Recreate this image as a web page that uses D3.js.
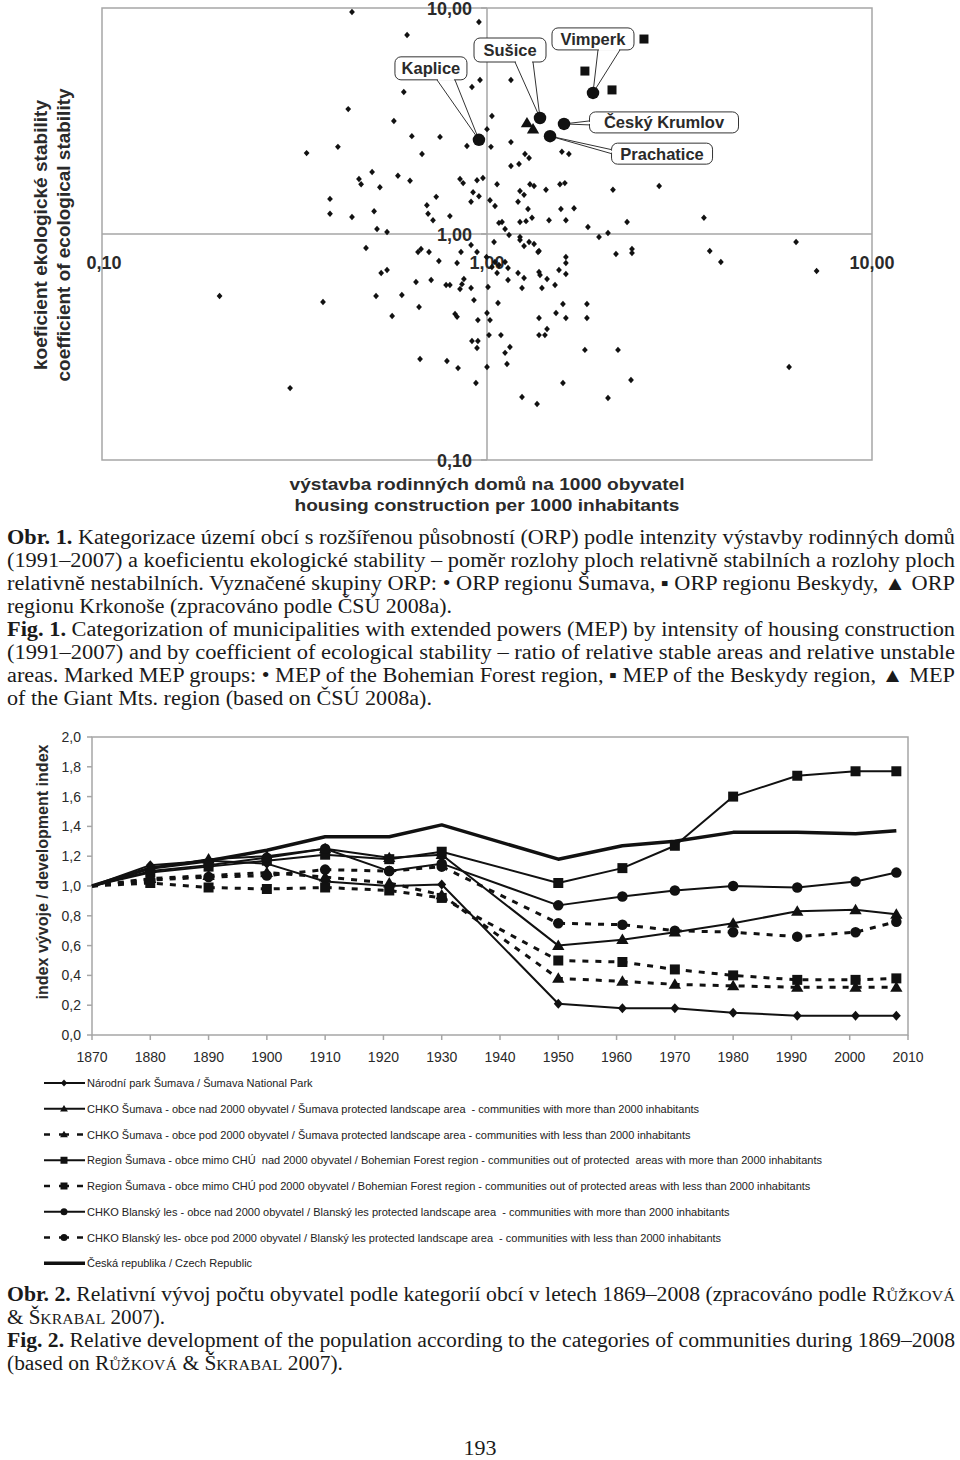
<!DOCTYPE html>
<html><head><meta charset="utf-8">
<script src="https://cdn.jsdelivr.net/npm/d3@7"></script>
<style>body{margin:0;background:#fff} svg{display:block} text{white-space:pre}</style>
</head><body>
<svg id="c" width="960" height="1460"></svg>
<script>
// ---------- Fig. 1 data (log-log scatter) ----------
const housingX = [0.446,0.953,0.620,0.959,0.914,0.608,0.436,1.030,0.573,1.00,
0.638,0.755,0.887,1.024,0.340,0.410,0.678,0.503,0.465,0.471,
0.587,0.631,0.527,0.851,0.867,0.942,0.976,1.062,0.920,0.953,
0.909,1.018,1.049,0.738,0.391,0.391,0.446,0.509,0.698,0.703,
0.724,0.801,1.074,0.518,1.154,1.154,1.255,1.286,1.565,1.632,
1.154,1.211,2.80,2.124,1.293,1.325,1.423,1.547,1.593,1.218,
1.248,1.204,1.278,1.556,1.683,1.449,1.603,1.829,2.311,3.66,
1.094,1.218,1.263,1.309,1.954,2.062,1.114,1.141,1.043,1.218,
1.218,1.248,1.286,1.325,1.365,2.163,2.380,2.380,3.79,4.05,
6.35,7.18,0.997,1.049,1.114,1.030,1.062,1.134,1.134,1.006,
1.204,1.248,1.233,1.365,1.373,1.389,1.432,1.502,1.538,1.603,
1.603,1.603,1.068,1.00,1.018,1.012,1.087,1.365,1.575,1.818,
1.511,1.603,1.818,1.432,1.365,1.414,1.147,1.114,1.127,1.00,
1.796,2.189,6.09,1.575,2.366,1.233,1.349,2.062,0.550,0.485,
0.662,0.674,0.707,0.750,0.836,0.856,0.909,0.942,0.531,0.550,
0.654,0.716,0.783,0.801,0.871,0.861,0.851,0.909,0.515,0.601,
0.666,0.567,0.826,0.836,0.925,0.947,0.914,0.947,0.942,0.202,
0.375,0.308,0.670,0.787,0.841,0.936,1.357,1.074];
const stabilityY = [9.60,8.67,7.60,4.80,4.47,4.25,3.57,3.33,3.16,2.91,
2.71,2.69,2.45,2.43,2.28,2.43,2.26,1.88,1.75,1.66,
1.81,1.72,1.61,1.75,1.68,1.73,1.77,1.66,1.53,1.47,
1.39,1.41,1.33,1.46,1.43,1.23,1.19,1.26,1.34,1.23,
1.15,1.20,1.12,1.052,4.80,2.55,2.26,2.17,2.31,2.26,
2.00,2.04,1.63,1.57,1.66,1.63,1.57,1.66,1.68,1.55,
1.49,1.39,1.29,1.29,1.30,1.15,1.15,1.074,1.13,1.18,
1.13,1.13,1.14,1.18,0.970,1.01,1.052,0.99,0.922,0.970,
0.941,0.885,0.922,0.903,0.841,0.816,0.858,0.824,0.841,0.752,
0.922,0.686,0.791,0.752,0.752,0.714,0.672,0.707,0.626,0.583,
0.672,0.639,0.577,0.679,0.659,0.577,0.632,0.595,0.693,0.791,
0.744,0.665,0.495,0.447,0.416,0.357,0.357,0.425,0.490,0.490,
0.447,0.425,0.425,0.380,0.357,0.357,0.316,0.298,0.266,0.258,
0.307,0.307,0.258,0.219,0.226,0.190,0.177,0.188,1.02,0.867,
0.833,0.858,0.833,0.760,0.744,0.833,0.894,0.833,0.672,0.693,
0.613,0.626,0.595,0.595,0.632,0.600,0.571,0.577,0.532,0.537,
0.475,0.434,0.443,0.430,0.510,0.416,0.336,0.336,0.313,0.532,
0.500,0.208,0.280,0.274,0.255,0.219,0.833,0.729];
const sumavaNames = ["Kaplice","Sušice","Vimperk","Český Krumlov","Prachatice"];
const sumavaX = [0.953,1.373,1.885,1.585,1.458];
const sumavaY = [2.61,3.26,4.21,3.07,2.71];
const beskydyX = [1.796,2.112,2.557];
const beskydyY = [5.26,4.34,7.29];
const krkonoseX = [1.270,1.317];
const krkonoseY = [3.10,2.91];
const logTicks = [0.1,1,10];
const logTickLabels = ["0,10","1,00","10,00"];
const fig1XTitle = ["výstavba rodinných domů na 1000 obyvatel","housing construction per 1000 inhabitants"];
const fig1YTitle = ["koeficient ekologické stability","coefficient of ecological stability"];

// ---------- Fig. 2 data (population index) ----------
const years = [1870,1880,1890,1900,1910,1921,1930,1950,1961,1970,1980,1991,2001,2008];
const npSumava      = [1.00,1.14,1.17,1.15,1.03,1.00,1.01,0.21,0.18,0.18,0.15,0.13,0.13,0.13];
const chkoSumavaNad = [1.00,1.12,1.18,1.20,1.25,1.19,1.21,0.60,0.64,0.69,0.75,0.83,0.84,0.81];
const chkoSumavaPod = [1.00,1.05,1.07,1.09,1.06,1.02,0.94,0.38,0.36,0.34,0.33,0.32,0.32,0.32];
const regionNad     = [1.00,1.09,1.13,1.17,1.21,1.18,1.23,1.02,1.12,1.27,1.60,1.74,1.77,1.77];
const regionPod     = [1.00,1.02,0.99,0.98,0.99,0.97,0.92,0.50,0.49,0.44,0.40,0.37,0.37,0.38];
const blanskyNad    = [1.00,1.10,1.14,1.19,1.25,1.10,1.15,0.87,0.93,0.97,1.00,0.99,1.03,1.09];
const blanskyPod    = [1.00,1.04,1.06,1.07,1.11,1.10,1.13,0.75,0.74,0.70,0.69,0.66,0.69,0.76];
const czechRep      = [1.00,1.12,1.17,1.24,1.33,1.33,1.41,1.18,1.27,1.30,1.36,1.36,1.35,1.37];
const seriesNames = [
 "Národní park Šumava / Šumava National Park",
 "CHKO Šumava - obce nad 2000 obyvatel / Šumava protected landscape area  - communities with more than 2000 inhabitants",
 "CHKO Šumava - obce pod 2000 obyvatel / Šumava protected landscape area - communities with less than 2000 inhabitants",
 "Region Šumava - obce mimo CHÚ  nad 2000 obyvatel / Bohemian Forest region - communities out of protected  areas with more than 2000 inhabitants",
 "Region Šumava - obce mimo CHÚ pod 2000 obyvatel / Bohemian Forest region - communities out of protected areas with less than 2000 inhabitants",
 "CHKO Blanský les - obce nad 2000 obyvatel / Blanský les protected landscape area  - communities with more than 2000 inhabitants",
 "CHKO Blanský les- obce pod 2000 obyvatel / Blanský les protected landscape area  - communities with less than 2000 inhabitants",
 "Česká republika / Czech Republic"];
const yearTicks = [1870,1880,1890,1900,1910,1920,1930,1940,1950,1960,1970,1980,1990,2000,2010];
const indexTicks = [0,0.2,0.4,0.6,0.8,1.0,1.2,1.4,1.6,1.8,2.0];
const indexTickLabels = ["0,0","0,2","0,4","0,6","0,8","1,0","1,2","1,4","1,6","1,8","2,0"];
const fig2YTitle = "index vývoje / development index";

// ---------- captions ----------
const caption1 = [
 [["Obr. 1.",1]," Kategorizace území obcí s rozšířenou působností (ORP) podle intenzity výstavby rodinných domů"],
 ["(1991–2007) a koeficientu ekologické stability – poměr rozlohy ploch relativně stabilních a rozlohy ploch"],
 ["relativně nestabilních. Vyznačené skupiny ORP: • ORP regionu Šumava, ▪ ORP regionu Beskydy, ▲ ORP"],
 ["regionu Krkonoše (zpracováno podle ČSÚ 2008a)."],
 [["Fig. 1.",1]," Categorization of municipalities with extended powers (MEP) by intensity of housing construction"],
 ["(1991–2007) and by coefficient of ecological stability – ratio of relative stable areas and relative unstable"],
 ["areas. Marked MEP groups: • MEP of the Bohemian Forest region, ▪ MEP of the Beskydy region, ▲ MEP"],
 ["of the Giant Mts. region (based on ČSÚ 2008a)."]];
const caption2 = [
 [["Obr. 2.",1]," Relativní vývoj počtu obyvatel podle kategorií obcí v letech 1869–2008 (zpracováno podle R",["ŮŽKOVÁ",2]],
 ["& Š",["KRABAL",2]," 2007)."],
 [["Fig. 2.",1]," Relative development of the population according to the categories of communities during 1869–2008"],
 ["(based on R",["ŮŽKOVÁ",2]," & Š",["KRABAL",2]," 2007)."]];
const pageNumber = "193";

// ================= drawing =================
const svg = d3.select("#c");
const INK = "#111", LBL = "#2a2a2a", FRAME = "#a6a6a6";
const SANS = "Liberation Sans, Arial, sans-serif", SERIF = "Liberation Serif, Times New Roman, serif";

function markerPath(type, s){
  if(type==="circle"){ const r=s/2; return `M${-r},0A${r},${r} 0 1,0 ${r},0A${r},${r} 0 1,0 ${-r},0Z`; }
  if(type==="square"){ const h=s/2; return `M${-h},${-h}H${h}V${h}H${-h}Z`; }
  if(type==="triangle"){ const h=s*0.95; return `M0,${-h*0.58}L${s*0.56},${h*0.42}L${-s*0.56},${h*0.42}Z`; }
  if(type==="diamond"){ return `M0,${-s/2}L${s*0.45},0L0,${s/2}L${-s*0.45},0Z`; }
  return "";
}

// ---------- Fig 1 ----------
const sx = d3.scaleLog().domain([0.1,10]).range([102,872]);
const sy = d3.scaleLog().domain([0.1,10]).range([460,8]);
const g1 = svg.append("g");
g1.append("rect").attr("x",sx(0.1)).attr("y",sy(10)).attr("width",sx(10)-sx(0.1)).attr("height",sy(0.1)-sy(10))
  .attr("fill","none").attr("stroke",FRAME).attr("stroke-width",1.5);
g1.append("line").attr("x1",sx(1)).attr("x2",sx(1)).attr("y1",sy(10)).attr("y2",sy(0.1)).attr("stroke",FRAME).attr("stroke-width",1.5);
g1.append("line").attr("x1",sx(0.1)).attr("x2",sx(10)).attr("y1",sy(1)).attr("y2",sy(1)).attr("stroke",FRAME).attr("stroke-width",1.5);
logTicks.forEach((t,i)=>{
  g1.append("line").attr("x1",sx(1)-6).attr("x2",sx(1)).attr("y1",sy(t)).attr("y2",sy(t)).attr("stroke",FRAME).attr("stroke-width",1.5);
  g1.append("text").attr("x",sx(1)-15).attr("y",sy(t)+6.5).attr("text-anchor","end")
    .attr("font-family",SANS).attr("font-weight","bold").attr("font-size",18).attr("fill",LBL).text(logTickLabels[i]);
  g1.append("text").attr("x",sx(t)+(i===0?2:0)).attr("y",sy(1)+34.5).attr("text-anchor","middle")
    .attr("font-family",SANS).attr("font-weight","bold").attr("font-size",18).attr("fill",LBL).text(logTickLabels[i]);
});
fig1XTitle.forEach((t,i)=>{
  g1.append("text").attr("x",487).attr("y",490+i*21).attr("text-anchor","middle")
    .attr("font-family",SANS).attr("font-weight","bold").attr("font-size",17).attr("fill",LBL)
    .attr("textLength",i===0?395:385).attr("lengthAdjust","spacingAndGlyphs").text(t);
});
fig1YTitle.forEach((t,i)=>{
  g1.append("text").attr("transform",`translate(${47+i*23},235) rotate(-90)`).attr("text-anchor","middle")
    .attr("font-family",SANS).attr("font-weight","bold").attr("font-size",18).attr("fill",LBL)
    .attr("textLength",i===0?270:293).attr("lengthAdjust","spacingAndGlyphs").text(t);
});
g1.selectAll("path.pt").data(d3.range(housingX.length)).join("path").attr("class","pt")
  .attr("d",markerPath("diamond",6.4)).attr("fill",INK)
  .attr("transform",i=>`translate(${sx(housingX[i])},${sy(stabilityY[i])})`);

// callouts (layout: box centre offset from point, box size, wedge base offsets from box centre)
const calloutLayout = [
  {dx:-48,dy:-71.5,w:72,h:23,wa:[6,11.5],wb:[24,11.5]},
  {dx:-30,dy:-68,w:72,h:24,wa:[5,12],wb:[23,12]},
  {dx:0,dy:-54,w:82,h:22,wa:[5,11],wb:[27,11]},
  {dx:100,dy:-1.5,w:149,h:21,wa:[-74.5,-1.5],wb:[-74.5,2.5]},
  {dx:112,dy:17.5,w:101,h:21,wa:[-50.5,-4],wb:[-50.5,0]}];
sumavaNames.forEach((name,i)=>{
  const L = calloutLayout[i], px=sx(sumavaX[i]), py=sy(sumavaY[i]);
  const cx=px+L.dx, cy=py+L.dy;
  const a=[cx+L.wa[0],cy+L.wa[1]], b=[cx+L.wb[0],cy+L.wb[1]];
  const horiz = a[1]===b[1];
  g1.append("path").attr("d",`M${a[0]},${a[1]}L${px},${py}L${b[0]},${b[1]}`).attr("fill","#fff").attr("stroke","#333").attr("stroke-width",1);
  g1.append("rect").attr("x",cx-L.w/2).attr("y",cy-L.h/2).attr("width",L.w).attr("height",L.h).attr("rx",6)
    .attr("fill","#fff").attr("stroke","#333").attr("stroke-width",1);
  g1.append("line").attr("x1",a[0]+(horiz?1:0)).attr("y1",a[1]+(horiz?0:1)).attr("x2",b[0]-(horiz?1:0)).attr("y2",b[1]-(horiz?0:1))
    .attr("stroke","#fff").attr("stroke-width",2);
  g1.append("text").attr("x",cx).attr("y",cy+6).attr("text-anchor","middle")
    .attr("font-family",SANS).attr("font-weight","bold").attr("font-size",16.5).attr("fill",LBL).text(name);
});
sumavaX.forEach((v,i)=>g1.append("path").attr("d",markerPath("circle",12.5)).attr("fill",INK)
  .attr("transform",`translate(${sx(v)},${sy(sumavaY[i])})`));
beskydyX.forEach((v,i)=>g1.append("path").attr("d",markerPath("square",9)).attr("fill",INK)
  .attr("transform",`translate(${sx(v)},${sy(beskydyY[i])})`));
krkonoseX.forEach((v,i)=>g1.append("path").attr("d",markerPath("triangle",11)).attr("fill",INK)
  .attr("transform",`translate(${sx(v)},${sy(krkonoseY[i])})`));

// ---------- captions ----------
function drawCaption(lines, y0, lh, widths){
  lines.forEach((segs,i)=>{
    const t = svg.append("text").attr("x",7).attr("y",y0+i*lh).attr("font-family",SERIF).attr("font-size",20).attr("fill","#1a1a1a")
      .attr("textLength",widths[i]).attr("lengthAdjust","spacingAndGlyphs");
    segs.forEach(s=>{
      if(typeof s==="string"){ t.append("tspan").text(s); }
      else if(s[1]===1){ t.append("tspan").attr("font-weight","bold").text(s[0]); }
      else { t.append("tspan").attr("font-size",15).text(s[0]); }
    });
  });
}
drawCaption(caption1, 544, 23, [948,948,948,445,948,948,948,425]);
drawCaption(caption2, 1301, 23, [948,158,948,336]);
svg.append("text").attr("x",480).attr("y",1455).attr("text-anchor","middle").attr("font-family",SERIF).attr("font-size",22).attr("fill","#1a1a1a").text(pageNumber);

// ---------- Fig 2 ----------
const lx = d3.scaleLinear().domain([1870,2010]).range([92,908]);
const ly = d3.scaleLinear().domain([0,2]).range([1035,737]);
const g2 = svg.append("g");
g2.append("rect").attr("x",lx(1870)).attr("y",ly(2)).attr("width",lx(2010)-lx(1870)).attr("height",ly(0)-ly(2))
  .attr("fill","none").attr("stroke",FRAME).attr("stroke-width",1.5);
indexTicks.forEach((t,i)=>{
  g2.append("line").attr("x1",lx(1870)-5).attr("x2",lx(1870)).attr("y1",ly(t)).attr("y2",ly(t)).attr("stroke",FRAME).attr("stroke-width",1.5);
  g2.append("text").attr("x",81).attr("y",ly(t)+5).attr("text-anchor","end").attr("font-family",SANS).attr("font-size",14).attr("fill",LBL).text(indexTickLabels[i]);
});
yearTicks.forEach(t=>{
  g2.append("line").attr("x1",lx(t)).attr("x2",lx(t)).attr("y1",ly(0)).attr("y2",ly(0)+5).attr("stroke",FRAME).attr("stroke-width",1.5);
  g2.append("text").attr("x",lx(t)).attr("y",ly(0)+27).attr("text-anchor","middle").attr("font-family",SANS).attr("font-size",14).attr("fill",LBL).text(t);
});
g2.append("text").attr("transform",`translate(48,872) rotate(-90)`).attr("text-anchor","middle")
  .attr("font-family",SANS).attr("font-weight","bold").attr("font-size",16).attr("fill",LBL)
  .attr("textLength",255).attr("lengthAdjust","spacingAndGlyphs").text(fig2YTitle);

const allSeries = [npSumava,chkoSumavaNad,chkoSumavaPod,regionNad,regionPod,blanskyNad,blanskyPod,czechRep];
const seriesStyle = [
  {m:"diamond",ms:10,dash:null,w:2},
  {m:"triangle",ms:11,dash:null,w:2},
  {m:"triangle",ms:11,dash:"6,7",w:3},
  {m:"square",ms:10,dash:null,w:2},
  {m:"square",ms:10,dash:"6,7",w:3},
  {m:"circle",ms:10.5,dash:null,w:2},
  {m:"circle",ms:10.5,dash:"6,7",w:3},
  {m:null,ms:0,dash:null,w:3.5}];
const line = d3.line().x((d,i)=>lx(years[i])).y(d=>ly(d));
allSeries.forEach((s,k)=>{
  const st = seriesStyle[k];
  g2.append("path").attr("d",line(s)).attr("fill","none").attr("stroke",INK).attr("stroke-width",st.w)
    .attr("stroke-dasharray",st.dash).attr("stroke-linejoin","round");
});
allSeries.forEach((s,k)=>{
  const st = seriesStyle[k];
  if(!st.m) return;
  g2.selectAll(null).data(s.slice(1)).join("path").attr("d",markerPath(st.m,st.ms)).attr("fill",INK)
    .attr("transform",(d,i)=>`translate(${lx(years[i+1])},${ly(d)})`);
});

// legend
seriesNames.forEach((name,k)=>{
  const st = seriesStyle[k], y = 1083 + k*25.75;
  if(st.dash){
    g2.append("line").attr("x1",44).attr("x2",50).attr("y1",y).attr("y2",y).attr("stroke",INK).attr("stroke-width",2.5);
    g2.append("line").attr("x1",77).attr("x2",83).attr("y1",y).attr("y2",y).attr("stroke",INK).attr("stroke-width",2.5);
    g2.append("line").attr("x1",59).attr("x2",69).attr("y1",y).attr("y2",y).attr("stroke",INK).attr("stroke-width",2.5);
  } else {
    g2.append("line").attr("x1",44).attr("x2",85).attr("y1",y).attr("y2",y).attr("stroke",INK).attr("stroke-width",st.m?2:3.5);
  }
  if(st.m) g2.append("path").attr("d",markerPath(st.m,7)).attr("fill",INK).attr("transform",`translate(64,${y})`);
  g2.append("text").attr("x",87).attr("y",y+4).attr("font-family",SANS).attr("font-size",11).attr("fill","#222").text(name);
});
</script>
</body></html>
